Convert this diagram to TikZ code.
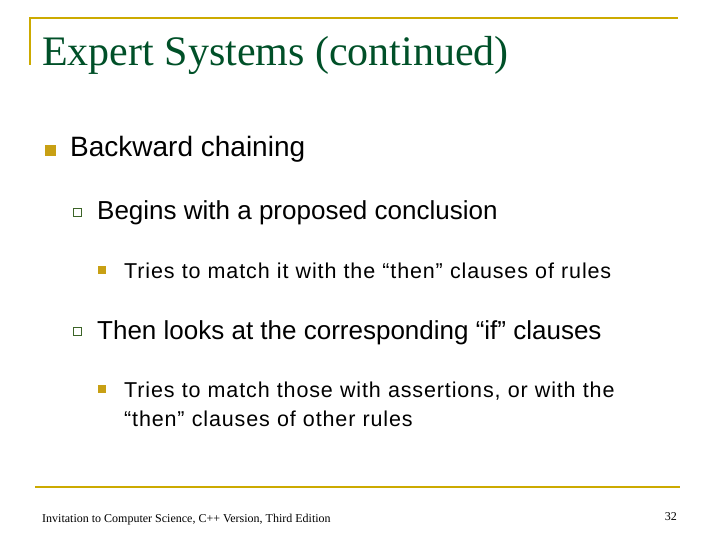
\documentclass[tikz,border=0pt]{standalone}
\usepackage{fontspec}
\setmainfont{Liberation Serif}
\setsansfont{Liberation Sans}
\definecolor{gold}{RGB}{204,170,0}
\definecolor{ttl}{RGB}{0,80,40}
\definecolor{bulf}{RGB}{200,160,20}
\definecolor{bulh}{RGB}{60,100,40}
\begin{document}
\begin{tikzpicture}[x=1pt,y=-1pt,
  txt/.style={anchor=base west,inner sep=0pt,font=\sffamily},
  l1/.style={txt,font=\sffamily\fontsize{28}{32}\selectfont},
  l2/.style={txt,font=\sffamily\fontsize{26}{30}\selectfont},
  l3/.style={txt,font=\sffamily\fontsize{21.5}{29}\selectfont\addfontfeatures{LetterSpace=4},align=left,text width=580pt}]
\useasboundingbox (0,0) rectangle (720,540);
\draw[gold,line width=2pt] (30,65) -- (30,18) -- (678,18);
\draw[gold,line width=1.2pt] (35,487) -- (680,487);
\node[txt,font=\rmfamily\fontsize{42}{46}\selectfont,text=ttl] (title) at (42,66) {Expert Systems (continued)};
\fill[bulf] (45,145) rectangle (56,156);
\node[l1] (a) at (70,157) {Backward chaining};
\draw[bulh,line width=1pt] (73,208.5) rectangle (81,216.5);
\node[l2] (b) at (97,220) {Begins with a proposed conclusion};
\fill[bulf] (98,266) rectangle (106,274);
\node[l3] (c) at (124,278) {Tries to match it with the “then” clauses of rules};
\draw[bulh,line width=1pt] (73,327.5) rectangle (81,335.5);
\node[l2] (d) at (97,339) {Then looks at the corresponding “if” clauses};
\fill[bulf] (98,385) rectangle (106,393);
\node[l3] (e) at (124,397) {Tries to match those with assertions, or with the\\“then” clauses of other rules};
\node[txt,font=\rmfamily\fontsize{12}{14}\selectfont] (f) at (42,522) {Invitation to Computer Science, C++ Version, Third Edition};
\node[txt,anchor=base east,font=\rmfamily\fontsize{12}{14}\selectfont] (n) at (677,520) {32};
\end{tikzpicture}
\end{document}
